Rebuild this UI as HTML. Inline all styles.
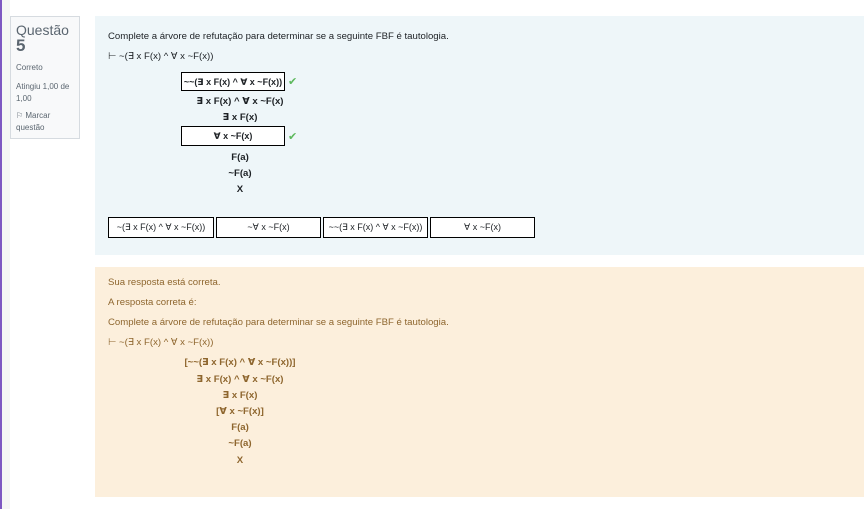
<!DOCTYPE html>
<html><head><meta charset="utf-8"><style>
body{margin:0;width:864px;height:509px;background:#fff;position:relative;overflow:hidden;font-family:"Liberation Sans","DejaVu Sans",sans-serif;}
.a{position:absolute;white-space:nowrap}
.c{position:absolute;left:140px;width:200px;text-align:center;font-weight:bold;font-size:9.6px;color:#1d2125}
.o .c{color:#8e662e}
.box{position:absolute;border:1px solid #000;background:#fff;font-size:9px;text-align:center;line-height:19px;color:#1d2125}
.ck{position:absolute;color:#5cb85c;font-size:11px;font-weight:bold}
.t{font-size:9.6px}
</style></head><body>
<div class="a" style="left:0;top:0;width:2px;height:509px;background:#7e57c2"></div>
<div class="a" style="left:2px;top:0;width:8px;height:509px;background:#f5f5f5"></div>
<div class="a" style="left:10px;top:16px;width:68px;height:121px;background:#f8f9fa;border:1px solid #d6dbe0"></div>
<div class="a" style="left:16px;top:22px;font-size:14px;color:#5b6670">Questão</div>
<div class="a" style="left:16px;top:36px;font-size:17px;font-weight:bold;color:#5b6670">5</div>
<div class="a" style="left:16px;top:63px;font-size:8px;color:#5b6670">Correto</div>
<div class="a" style="left:16px;top:81px;font-size:8px;color:#5b6670;line-height:12px">Atingiu 1,00 de<br>1,00</div>
<div class="a" style="left:16px;top:110px;font-size:8px;color:#5b6670;line-height:12px">⚐ Marcar<br>questão</div>

<div class="a" style="left:95px;top:16px;width:769px;height:239px;background:#eef6f9"></div>
<div class="a t" style="left:108px;top:31px;color:#1d2125">Complete a árvore de refutação para determinar se a seguinte FBF é tautologia.</div>
<div class="a t" style="left:108px;top:51px;color:#1d2125">⊢ ~(∃ x F(x) ^ ∀ x ~F(x))</div>
<div class="box" style="left:181px;top:72px;width:102px;height:17px;font-weight:bold;line-height:18px">~~(∃ x F(x) ^ ∀ x ~F(x))</div>
<div class="ck" style="left:288px;top:75px">✔</div>
<div class="c" style="top:96px">∃ x F(x) ^ ∀ x ~F(x)</div>
<div class="c" style="top:112px">∃ x F(x)</div>
<div class="box" style="left:181px;top:126px;width:102px;height:18px;font-weight:bold">∀ x ~F(x)</div>
<div class="ck" style="left:288px;top:130px">✔</div>
<div class="c" style="top:152px">F(a)</div>
<div class="c" style="top:168px">~F(a)</div>
<div class="c" style="top:184px">X</div>
<div class="box" style="left:108px;top:217px;width:104px;height:19px">~(∃ x F(x) ^ ∀ x ~F(x))</div>
<div class="box" style="left:216px;top:217px;width:103px;height:19px">~∀ x ~F(x)</div>
<div class="box" style="left:323px;top:217px;width:103px;height:19px">~~(∃ x F(x) ^ ∀ x ~F(x))</div>
<div class="box" style="left:430px;top:217px;width:103px;height:19px">∀ x ~F(x)</div>

<div class="o">
<div class="a" style="left:95px;top:267px;width:769px;height:230px;background:#fcefdc"></div>
<div class="a t" style="left:108px;top:277px;color:#8e662e">Sua resposta está correta.</div>
<div class="a t" style="left:108px;top:297px;color:#8e662e">A resposta correta é:</div>
<div class="a t" style="left:108px;top:317px;color:#8e662e">Complete a árvore de refutação para determinar se a seguinte FBF é tautologia.</div>
<div class="a t" style="left:108px;top:337px;color:#8e662e">⊢ ~(∃ x F(x) ^ ∀ x ~F(x))</div>
<div class="c" style="top:357px">[~~(∃ x F(x) ^ ∀ x ~F(x))]</div>
<div class="c" style="top:374px">∃ x F(x) ^ ∀ x ~F(x)</div>
<div class="c" style="top:390px">∃ x F(x)</div>
<div class="c" style="top:406px">[∀ x ~F(x)]</div>
<div class="c" style="top:422px">F(a)</div>
<div class="c" style="top:438px">~F(a)</div>
<div class="c" style="top:455px">X</div>
</div>
</body></html>
